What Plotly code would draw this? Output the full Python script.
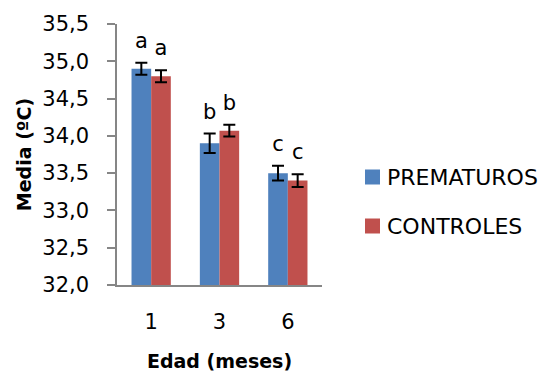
import plotly.graph_objects as go

categories = ["1", "3", "6"]
series_names = ["PREMATUROS", "CONTROLES"]
prematuros = [34.90, 33.90, 33.50]
controles = [34.80, 34.07, 33.40]
err_prematuros = [0.08, 0.13, 0.10]
err_controles = [0.08, 0.08, 0.085]
letters_prematuros = ["a", "b", "c"]
letters_controles = ["a", "b", "c"]
colors = ["#4F81BD", "#C0504D"]

FONT = "DejaVu Sans"
W, H = 542, 372
ML, MR, MT, MB = 117, 220, 24, 87
PW, PH = W - ML - MR, H - MT - MB

fig = go.Figure()
series = [
    (series_names[0], prematuros, err_prematuros, letters_prematuros, colors[0]),
    (series_names[1], controles, err_controles, letters_controles, colors[1]),
]
for i, (name, vals, errs, letters, col) in enumerate(series):
    fig.add_trace(go.Bar(
        x=categories, y=vals, name=name, marker_color=col,
        marker_line_width=0, offsetgroup=str(i), showlegend=False,
        error_y=dict(type="data", array=errs, visible=True,
                     color="black", thickness=2, width=6),
    ))
for i, (name, vals, errs, letters, col) in enumerate(series):
    fig.add_trace(go.Scatter(
        x=categories, y=[v + e for v, e in zip(vals, errs)],
        mode="markers+text", text=letters, textposition="top center",
        marker=dict(size=14, opacity=0),
        textfont=dict(family=FONT, size=21, color="black"),
        offsetgroup=str(i), showlegend=False, hoverinfo="skip", cliponaxis=False,
    ))

# manual legend (pixel layout converted to paper coords)
def px_x(p):
    return (p - ML) / PW

def px_y(p):
    return (H - MB - p) / PH

legend_rows = [177, 226]
shapes, annotations = [], []
for (name, _, _, _, col), row in zip(series, legend_rows):
    shapes.append(dict(type="rect", xref="paper", yref="paper",
                       x0=px_x(365), x1=px_x(380), y0=px_y(row + 7.5), y1=px_y(row - 7.5),
                       fillcolor=col, line=dict(width=0)))
    annotations.append(dict(text=name, xref="paper", yref="paper", x=px_x(385), y=px_y(row),
                            xanchor="left", yanchor="middle", showarrow=False,
                            font=dict(family=FONT, size=22, color="black")))

fig.update_layout(
    width=W, height=H,
    margin=dict(l=ML, r=MR, t=MT, b=MB),
    paper_bgcolor="white", plot_bgcolor="white",
    barmode="group", scattermode="group", bargap=0.425, bargroupgap=0,
    separators=",.",
    font=dict(family=FONT, size=21, color="black"),
    showlegend=False,
    shapes=shapes, annotations=annotations,
)
fig.update_yaxes(
    range=[32, 35.5], dtick=0.5, tickformat=".1f", automargin=False,
    showgrid=False, zeroline=False,
    showline=True, linecolor="#868686", linewidth=1.5,
    ticks="outside", ticklen=8, tickcolor="#868686", tickwidth=1.5,
    ticklabelstandoff=14,
    tickfont=dict(family=FONT, size=21, color="black"),
    title=dict(text="<b>Media (ºC)</b>", font=dict(family=FONT, size=19, color="black"), standoff=6),
)
fig.update_xaxes(
    showgrid=False, zeroline=False, automargin=False,
    showline=True, linecolor="#868686", linewidth=1.5,
    ticks="", ticklabelstandoff=17,
    tickfont=dict(family=FONT, size=21, color="black"),
    title=dict(text="<b>Edad (meses)</b>", font=dict(family=FONT, size=19, color="black"), standoff=22),
)

fig.write_html("out.html")
